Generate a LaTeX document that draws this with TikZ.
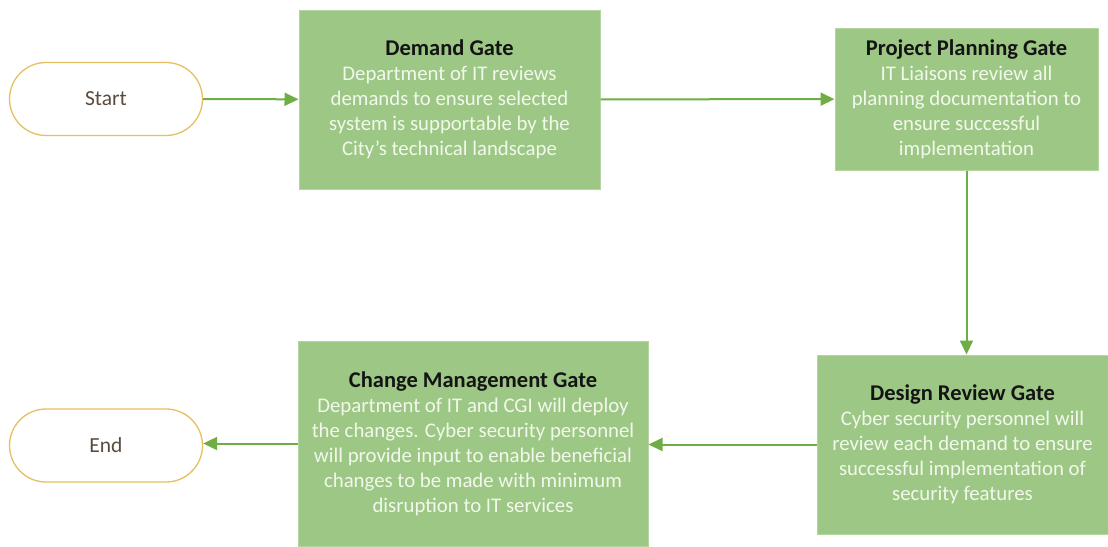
\documentclass[tikz,border=0pt]{standalone}
\usepackage{fontspec}
\setmainfont{Carlito}
\usetikzlibrary{arrows.meta,shapes.misc}
\definecolor{boxfill}{HTML}{9DC785}
\definecolor{boxedge}{HTML}{B3D59E}
\definecolor{arrowc}{HTML}{6FAE45}
\definecolor{termedge}{HTML}{E6C060}
\definecolor{termtext}{HTML}{5A4B3C}
\definecolor{bodytext}{HTML}{F2F8EC}
\definecolor{titletext}{HTML}{141414}
\tikzset{
  gate/.style={rectangle, fill=boxfill, draw=boxedge, line width=1pt, align=center,
    inner sep=0pt, font=\fontsize{20.8}{25}\selectfont, text=bodytext},
  term/.style={rounded rectangle, draw=termedge, line width=1.3pt, fill=white,
    minimum width=193pt, minimum height=73pt, inner sep=0pt,
    font=\fontsize{21.5}{24}\selectfont, text=termtext},
  flow/.style={draw=arrowc, line width=2pt, -{Triangle[length=14pt,width=13pt]}}
}
\newcommand{\gtitle}[1]{{\color{titletext}\bfseries\fontsize{22.5}{25}\selectfont #1}}
\begin{document}
\begin{tikzpicture}[x=1pt,y=-1pt]
\useasboundingbox (0,0) rectangle (1108,546);
\node[term] (start) at (106,99) {Start};
\node[term] (end) at (106,445.5) {End};
\node[gate, minimum width=301pt, minimum height=179pt] (demand) at (449.5,99.5)
  {\gtitle{Demand Gate}\\Department of IT reviews\\demands to ensure selected\\system is supportable by the\\City's technical landscape};
\node[gate, minimum width=263pt, minimum height=142pt] (plan) at (966.5,99)
  {\gtitle{Project Planning Gate}\\IT Liaisons review all\\planning documentation to\\ensure successful\\implementation};
\node[gate, minimum width=291pt, minimum height=179pt] (design) at (962.5,444.5)
  {\gtitle{Design Review Gate}\\Cyber security personnel will\\review each demand to ensure\\successful implementation of\\security features};
\node[gate, minimum width=350pt, minimum height=205pt] (change) at (473,443.5)
  {\gtitle{Change Management Gate}\\Department of IT and CGI will deploy\\the changes. Cyber security personnel\\will provide input to enable beneficial\\changes to be made with minimum\\disruption to IT services};
\draw[flow] (start) -- (demand);
\draw[flow] (demand) -- (plan);
\draw[flow] (plan.south) -- (plan.south |- design.north);
\draw[flow] (design.west) -- (design.west -| change.east);
\draw[flow] (change.west) -- (change.west -| end.east);
\end{tikzpicture}
\end{document}
